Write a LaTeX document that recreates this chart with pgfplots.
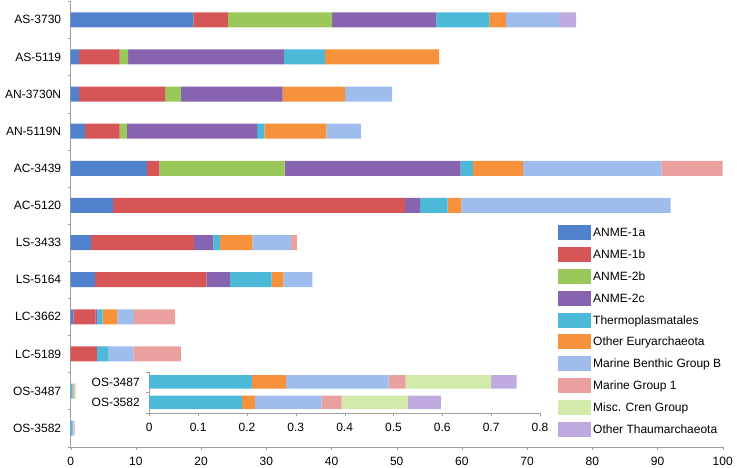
\documentclass[border=0pt]{standalone}
\usepackage{fontspec}
\setmainfont{Liberation Sans}
\usepackage{pgfplots}
\usepackage{pgfplotstable}
\pgfplotsset{compat=1.18}

\definecolor{c1}{RGB}{79,129,205}
\definecolor{c2}{RGB}{214,85,86}
\definecolor{c3}{RGB}{155,200,90}
\definecolor{c4}{RGB}{134,100,175}
\definecolor{c5}{RGB}{75,185,215}
\definecolor{c6}{RGB}{247,145,60}
\definecolor{c7}{RGB}{158,188,236}
\definecolor{c8}{RGB}{235,160,160}
\definecolor{c9}{RGB}{210,235,170}
\definecolor{c10}{RGB}{190,170,222}
\definecolor{axgray}{RGB}{160,160,160}

\pgfplotstableread{
y a b c d e f g h i j
0 18.8 5.3 16.0 16.0 8.1 2.6 8.1 0 0 2.6
1 1.3 6.2 1.3 23.9 6.3 17.5 0 0 0 0
2 1.3 13.2 2.4 15.6 0 9.6 7.2 0 0 0
3 2.2 5.3 1.1 20.0 1.1 9.5 5.3 0 0 0
4 11.7 1.9 19.2 27.0 1.9 7.7 21.2 9.4 0 0
5 6.5 44.8 0 2.3 4.2 2.1 32.1 0 0 0
6 3.1 15.8 0 3.0 1.0 4.95 5.95 0.9 0 0
7 3.7 17.1 0 3.6 6.4 1.8 4.45 0 0 0
8 0.4 3.4 0 0.3 0.8 2.25 2.55 6.3 0 0
9 0 4.0 0 0 1.8 0 3.8 7.3 0 0
10 0 0 0 0 0.21 0.07 0.21 0.035 0.175 0.052
11 0 0 0 0 0.19 0.026 0.137 0.041 0.136 0.067
}\maindata

\pgfplotstableread{
y e f g h i j
0 0.21 0.07 0.21 0.035 0.175 0.052
1 0.19 0.026 0.137 0.041 0.136 0.067
}\insetdata

\pgfplotsset{
  common/.style={
    scale only axis,
    xbar stacked,
    y dir=reverse,
    axis x line*=bottom,
    axis y line*=left,
    axis line style={axgray},
    tick align=outside,
    major tick length=3pt,
    minor tick length=3pt,
    tick style={axgray},
    major y tick style={draw=none},
    every tick label/.append style={font=\fontsize{12}{14}\selectfont},
    /pgf/number format/assume math mode=true,
  },
}

\begin{document}
\begin{tikzpicture}
\useasboundingbox (0,0) rectangle (737pt,467pt);
\begin{axis}[common,
  at={(70.7pt,20.3pt)}, anchor=south west,
  width=652pt, height=445.4pt,
  bar width=15pt,
  xmin=0, xmax=100, ymin=-0.5, ymax=11.5,
  xtick={0,10,...,100},
  ytick={0,...,11},
  yticklabels={AS-3730,AS-5119,AN-3730N,AN-5119N,AC-3439,AC-5120,LS-3433,LS-5164,LC-3662,LC-5189,OS-3487,OS-3582},
  minor ytick={-0.5,0.5,...,11.5},
  yticklabel style={xshift=-3pt},
  xticklabel style={yshift=-4pt},
  legend style={at={(0.7474,0.4973)}, anchor=north west, draw=none, fill=none,
    inner sep=0pt, row sep=6.8pt, column sep=2pt,
    nodes={inner sep=0pt, text height=11.5pt, text depth=3.5pt, anchor=base west},
    font=\fontsize{12}{14}\selectfont},
  legend cell align=left,
  legend image code/.code={\fill[#1] (0pt,-3.5pt) rectangle (33pt,11.5pt);},
]
\addplot[fill=c1,draw=none] table[x=a,y=y]{\maindata};
\addplot[fill=c2,draw=none] table[x=b,y=y]{\maindata};
\addplot[fill=c3,draw=none] table[x=c,y=y]{\maindata};
\addplot[fill=c4,draw=none] table[x=d,y=y]{\maindata};
\addplot[fill=c5,draw=none] table[x=e,y=y]{\maindata};
\addplot[fill=c6,draw=none] table[x=f,y=y]{\maindata};
\addplot[fill=c7,draw=none] table[x=g,y=y]{\maindata};
\addplot[fill=c8,draw=none] table[x=h,y=y]{\maindata};
\addplot[fill=c9,draw=none] table[x=i,y=y]{\maindata};
\addplot[fill=c10,draw=none] table[x=j,y=y]{\maindata};
\legend{ANME-1a,ANME-1b,ANME-2b,ANME-2c,Thermoplasmatales,Other Euryarchaeota,Marine Benthic Group B,Marine Group 1,Misc. Cren Group,Other Thaumarchaeota}
\end{axis}
\begin{axis}[common,
  at={(149.3pt,54.3pt)}, anchor=south west,
  width=390.7pt, height=41pt,
  bar width=13.5pt,
  xmin=0, xmax=0.8, ymin=-0.5, ymax=1.5,
  xtick={0,0.1,0.2,0.3,0.4,0.5,0.6,0.7,0.8},
  xticklabels={0,0.1,0.2,0.3,0.4,0.5,0.6,0.7,0.8},
  ytick={0,1},
  yticklabels={OS-3487,OS-3582},
  minor ytick={-0.5,0.5,1.5},
  yticklabel style={xshift=-3pt},
  xticklabel style={yshift=-4pt},
]
\addplot[fill=c5,draw=none] table[x=e,y=y]{\insetdata};
\addplot[fill=c6,draw=none] table[x=f,y=y]{\insetdata};
\addplot[fill=c7,draw=none] table[x=g,y=y]{\insetdata};
\addplot[fill=c8,draw=none] table[x=h,y=y]{\insetdata};
\addplot[fill=c9,draw=none] table[x=i,y=y]{\insetdata};
\addplot[fill=c10,draw=none] table[x=j,y=y]{\insetdata};
\end{axis}
\end{tikzpicture}
\end{document}
